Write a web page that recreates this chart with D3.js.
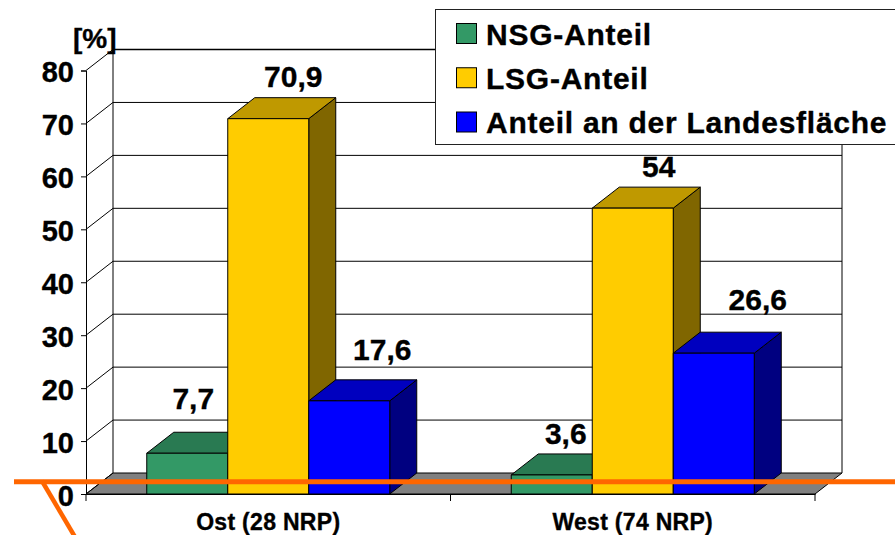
<!DOCTYPE html>
<html>
<head>
<meta charset="utf-8">
<script src="https://cdn.jsdelivr.net/npm/d3@7"></script>
<style>
html, body { margin: 0; padding: 0; background: #fff; overflow: hidden; }
text { font-family: "Liberation Sans", Arial, sans-serif; font-weight: bold; fill: #000; stroke: #000; stroke-width: 0.35px; }
</style>
</head>
<body>
<div id="chart"></div>
<script>
var categories = ["Ost (28 NRP)", "West (74 NRP)"];
var seriesNames = ["NSG-Anteil", "LSG-Anteil", "Anteil an der Landesfläche"];
var nsgValues = [7.7, 3.6];
var lsgValues = [70.9, 54];
var landValues = [17.6, 26.6];
var valueLabels = [["7,7", "3,6"], ["70,9", "54"], ["17,6", "26,6"]];
var yTicks = [0, 10, 20, 30, 40, 50, 60, 70, 80];

var allValues = [nsgValues, lsgValues, landValues];
// label nudges from the front top centre of each bar, picked by eye
var labelNudge = [[[6, -44], [14, -31]], [[25, -32], [26, -31]], [[33, -41], [44, -43]]];
var faces = [
    { front: "#339966", top: "#297a52", side: "#1f5c3d" },
    { front: "#ffcc00", top: "#bf9900", side: "#806600" },
    { front: "#0000ff", top: "#0000bf", side: "#000080" }
];

var w = 895, h = 535;
var depthX = 27, depthY = -21; // the 3d offset of the back wall

var svg = d3.select("#chart").append("svg").attr("width", w).attr("height", h);

var x0 = d3.scaleBand().domain(d3.range(categories.length)).range([86, 815]);
var x1 = d3.scaleBand().domain(d3.range(seriesNames.length))
           .range([0, x0.bandwidth()]).paddingOuter(0.75).paddingInner(0);
var y = d3.scaleLinear().domain([0, 80]).range([494, 70.5]);

var x0Left = x0.range()[0], x0Right = x0.range()[1];

// floor
svg.append("path")
   .attr("d", d3.line()([[x0Left, y(0)], [x0Right, y(0)], [x0Right + depthX, y(0) + depthY], [x0Left + depthX, y(0) + depthY]]) + "Z")
   .attr("fill", "#808080").attr("stroke", "#000");

// back wall and side wall grid
var grid = svg.append("g").attr("stroke", "#000").attr("fill", "none");
yTicks.slice(1).forEach(function(t) {
    grid.append("line")
        .attr("x1", x0Left + depthX).attr("x2", x0Right + depthX)
        .attr("y1", y(t) + depthY).attr("y2", y(t) + depthY)
        .attr("stroke-width", t === 80 ? 1.6 : 1);
});
yTicks.forEach(function(t) {
    grid.append("line")
        .attr("x1", x0Left).attr("x2", x0Left + depthX)
        .attr("y1", y(t)).attr("y2", y(t) + depthY);
});
[x0Left + depthX, x0Right + depthX].forEach(function(xx) {
    grid.append("line").attr("x1", xx).attr("x2", xx)
        .attr("y1", y(80) + depthY).attr("y2", y(0) + depthY);
});

// axes
var yAxis = d3.axisLeft(y).tickValues(yTicks).tickSize(5).tickPadding(7);
var yG = svg.append("g").attr("transform", "translate(" + x0Left + ",0)").call(yAxis);
yG.selectAll("text").style("font-size", "29px").attr("dy", "0.38em");

var xAxis = d3.axisBottom(x0).tickSize(0).tickPadding(0).tickFormat(function(i) { return categories[i]; });
var xG = svg.append("g").attr("transform", "translate(0," + y(0) + ")").call(xAxis);
xG.selectAll("text").style("font-size", "23px").style("letter-spacing", "0.3px").attr("y", 36).attr("dy", 0);

svg.append("g").selectAll("line")
   .data([x0Left, x0(1), x0Right])
   .enter().append("line")
   .attr("x1", function(d) { return d; }).attr("x2", function(d) { return d; })
   .attr("y1", y(0)).attr("y2", y(0) + 7)
   .attr("stroke", "#000");

// bars, drawn left to right so each one hides the side of the one before
categories.forEach(function(c, ci) {
    allValues.forEach(function(vals, si) {
        var bx = x0(ci) + x1(si), bw = x1.bandwidth(), top = y(vals[ci]), base = y(0);
        var g = svg.append("g").attr("stroke", "#000").attr("stroke-width", 1).attr("stroke-linejoin", "round");
        g.append("path")
         .attr("d", d3.line()([[bx + bw, top], [bx + bw + depthX, top + depthY], [bx + bw + depthX, base + depthY], [bx + bw, base]]) + "Z")
         .attr("fill", faces[si].side);
        g.append("path")
         .attr("d", d3.line()([[bx, top], [bx + depthX, top + depthY], [bx + bw + depthX, top + depthY], [bx + bw, top]]) + "Z")
         .attr("fill", faces[si].top);
        g.append("rect")
         .attr("x", bx).attr("y", top).attr("width", bw).attr("height", base - top)
         .attr("fill", faces[si].front);
    });
});

// value labels
allValues.forEach(function(vals, si) {
    vals.forEach(function(v, ci) {
        svg.append("text")
           .attr("x", x0(ci) + x1(si) + x1.bandwidth() / 2 + labelNudge[si][ci][0])
           .attr("y", y(v) + labelNudge[si][ci][1])
           .attr("text-anchor", "middle")
           .style("font-size", "30px")
           .text(valueLabels[si][ci]);
    });
});

svg.append("text").attr("x", 73).attr("y", 48).style("font-size", "28px").text("[%]");

// legend
var legend = svg.append("g");
legend.append("rect").attr("x", 435.5).attr("y", 9.5).attr("width", 470).attr("height", 135)
      .attr("fill", "#fff").attr("stroke", "#222");
var legendY = d3.scalePoint().domain(d3.range(seriesNames.length)).range([33.5, 122]);
seriesNames.forEach(function(name, i) {
    legend.append("rect").attr("x", 456.5).attr("y", legendY(i) - 10).attr("width", 20).attr("height", 20)
          .attr("fill", faces[i].front).attr("stroke", "#000");
    legend.append("text").attr("x", 486).attr("y", legendY(i) + 11)
          .style("font-size", "30px").style("letter-spacing", "0.75px").text(name);
});

// orange strokes laid over the chart
svg.append("path").attr("d", d3.line()([[14, 481.7], [w, 481.7]])).attr("stroke", "#ff6600").attr("stroke-width", 5).attr("fill", "none");
svg.append("path").attr("d", d3.line()([[42, 481], [75, 537]])).attr("stroke", "#ff6600").attr("stroke-width", 4.5).attr("fill", "none");
</script>
</body>
</html>
